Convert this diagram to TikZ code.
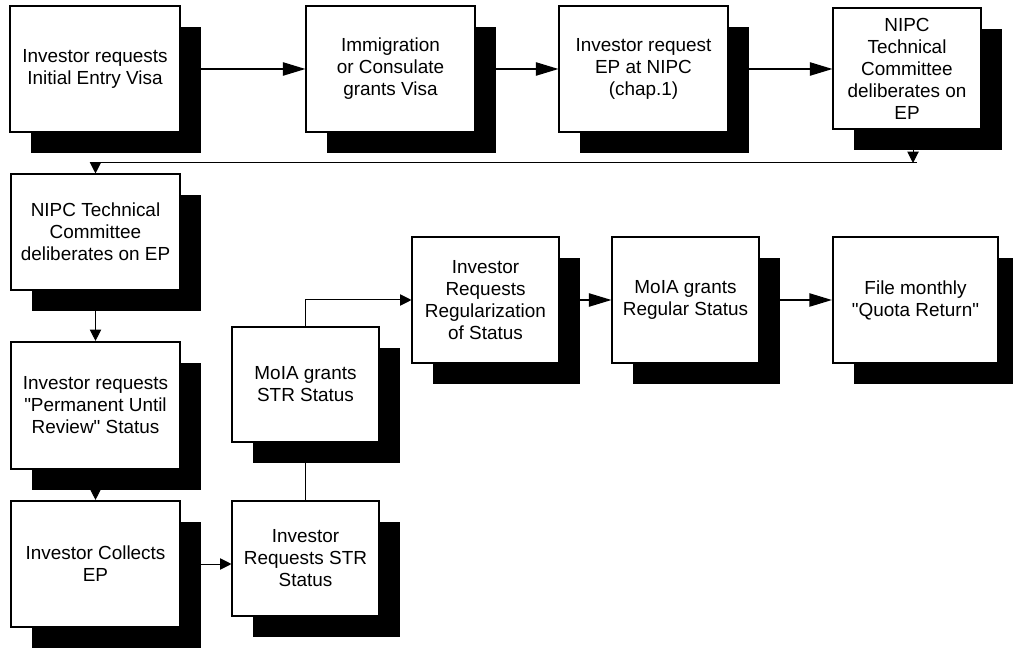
\documentclass[tikz,border=0pt]{standalone}
\usepackage{fontspec}
\setmainfont{Liberation Sans}[Ligatures=TeXOff]
\usetikzlibrary{shadows,arrows.meta,calc}
\begin{document}
\begin{tikzpicture}[x=0.75pt,y=-0.75pt,
  box/.style={draw=black, fill=white, line width=0.8pt, inner sep=0pt, align=center,
    font=\fontsize{14.2}{16.5}\selectfont,
    drop shadow={shadow xshift=15.75pt, shadow yshift=-15.75pt, opacity=1, fill=black}},
  thick box/.style={box, line width=1.6pt},
  bigarrow/.style={line width=1.1pt, -{Triangle[length=17pt,width=10pt]}},
  smallarrow/.style={line width=0.75pt, -{Triangle[length=8.5pt,width=8.5pt]}},
  plainline/.style={line width=0.75pt}]
\useasboundingbox (0,0) rectangle (1013,648);
\fill[white] (0,0) rectangle (1013,648);

\node[box, minimum width=127.5pt, minimum height=94.5pt] (n1) at (95,69) {Investor requests\\Initial Entry Visa};
\node[box, minimum width=126.75pt, minimum height=94.5pt] (n2) at (390.5,69) {Immigration\\or Consulate\\grants Visa};
\node[box, minimum width=126.75pt, minimum height=94.5pt] (n3) at (643.5,69) {Investor request\\EP at NIPC\\(chap.1)};
\node[box, minimum width=111pt, minimum height=90.75pt] (n4) at (907,68.5) {NIPC\\Technical\\Committee\\deliberates on\\EP};
\node[box, minimum width=126.75pt, minimum height=87pt] (n5) at (95.5,232) {NIPC Technical\\Committee\\deliberates on EP};
\node[thick box, minimum width=126.75pt, minimum height=95.25pt] (n6) at (95.5,405.5) {Investor requests\\"Permanent Until\\Review" Status};
\node[thick box, minimum width=126.75pt, minimum height=94.5pt] (n7) at (95.5,564) {Investor Collects\\EP};
\node[box, minimum width=110.25pt, minimum height=86.25pt] (n8) at (305.5,558.5) {Investor\\Requests STR\\Status};
\node[box, minimum width=110.25pt, minimum height=86.25pt] (n9) at (305.5,384.5) {MoIA grants\\STR Status};
\node[box, minimum width=110.25pt, minimum height=94.5pt] (n10) at (485.5,300) {Investor\\Requests\\Regularization\\of Status};
\node[box, minimum width=110.25pt, minimum height=94.5pt] (n11) at (685.5,300) {MoIA grants\\Regular Status};
\node[thick box, minimum width=123.75pt, minimum height=94.5pt] (n12) at (915.5,300) {File monthly\\"Quota Return"};

\coordinate (c0) at (917,163);
\coordinate (c1) at (913,163);
\coordinate (c2) at (95.5,163);

\draw[bigarrow] (n1.east) -- (n2.west);
\draw[bigarrow] (n2.east) -- (n3.west);
\draw[bigarrow] (n3.east) -- (n4.west |- n3.east);
\draw[smallarrow] (n4.south -| c1) -- (c1);
\draw[plainline] (c0) -- (c2);
\draw[smallarrow] (c2) -- (n5.north);
\draw[smallarrow] (n5.south) -- (n6.north);
\draw[smallarrow] (n6.south) -- (n7.north);
\draw[smallarrow] (n7.east) -- (n7.east -| n8.west);
\draw[plainline] (n8.north) -- (n9.south);
\draw[smallarrow] (n9.north) |- (n10.west);
\draw[bigarrow] (n10.east) -- (n11.west);
\draw[bigarrow] (n11.east) -- (n12.west);
\end{tikzpicture}
\end{document}
